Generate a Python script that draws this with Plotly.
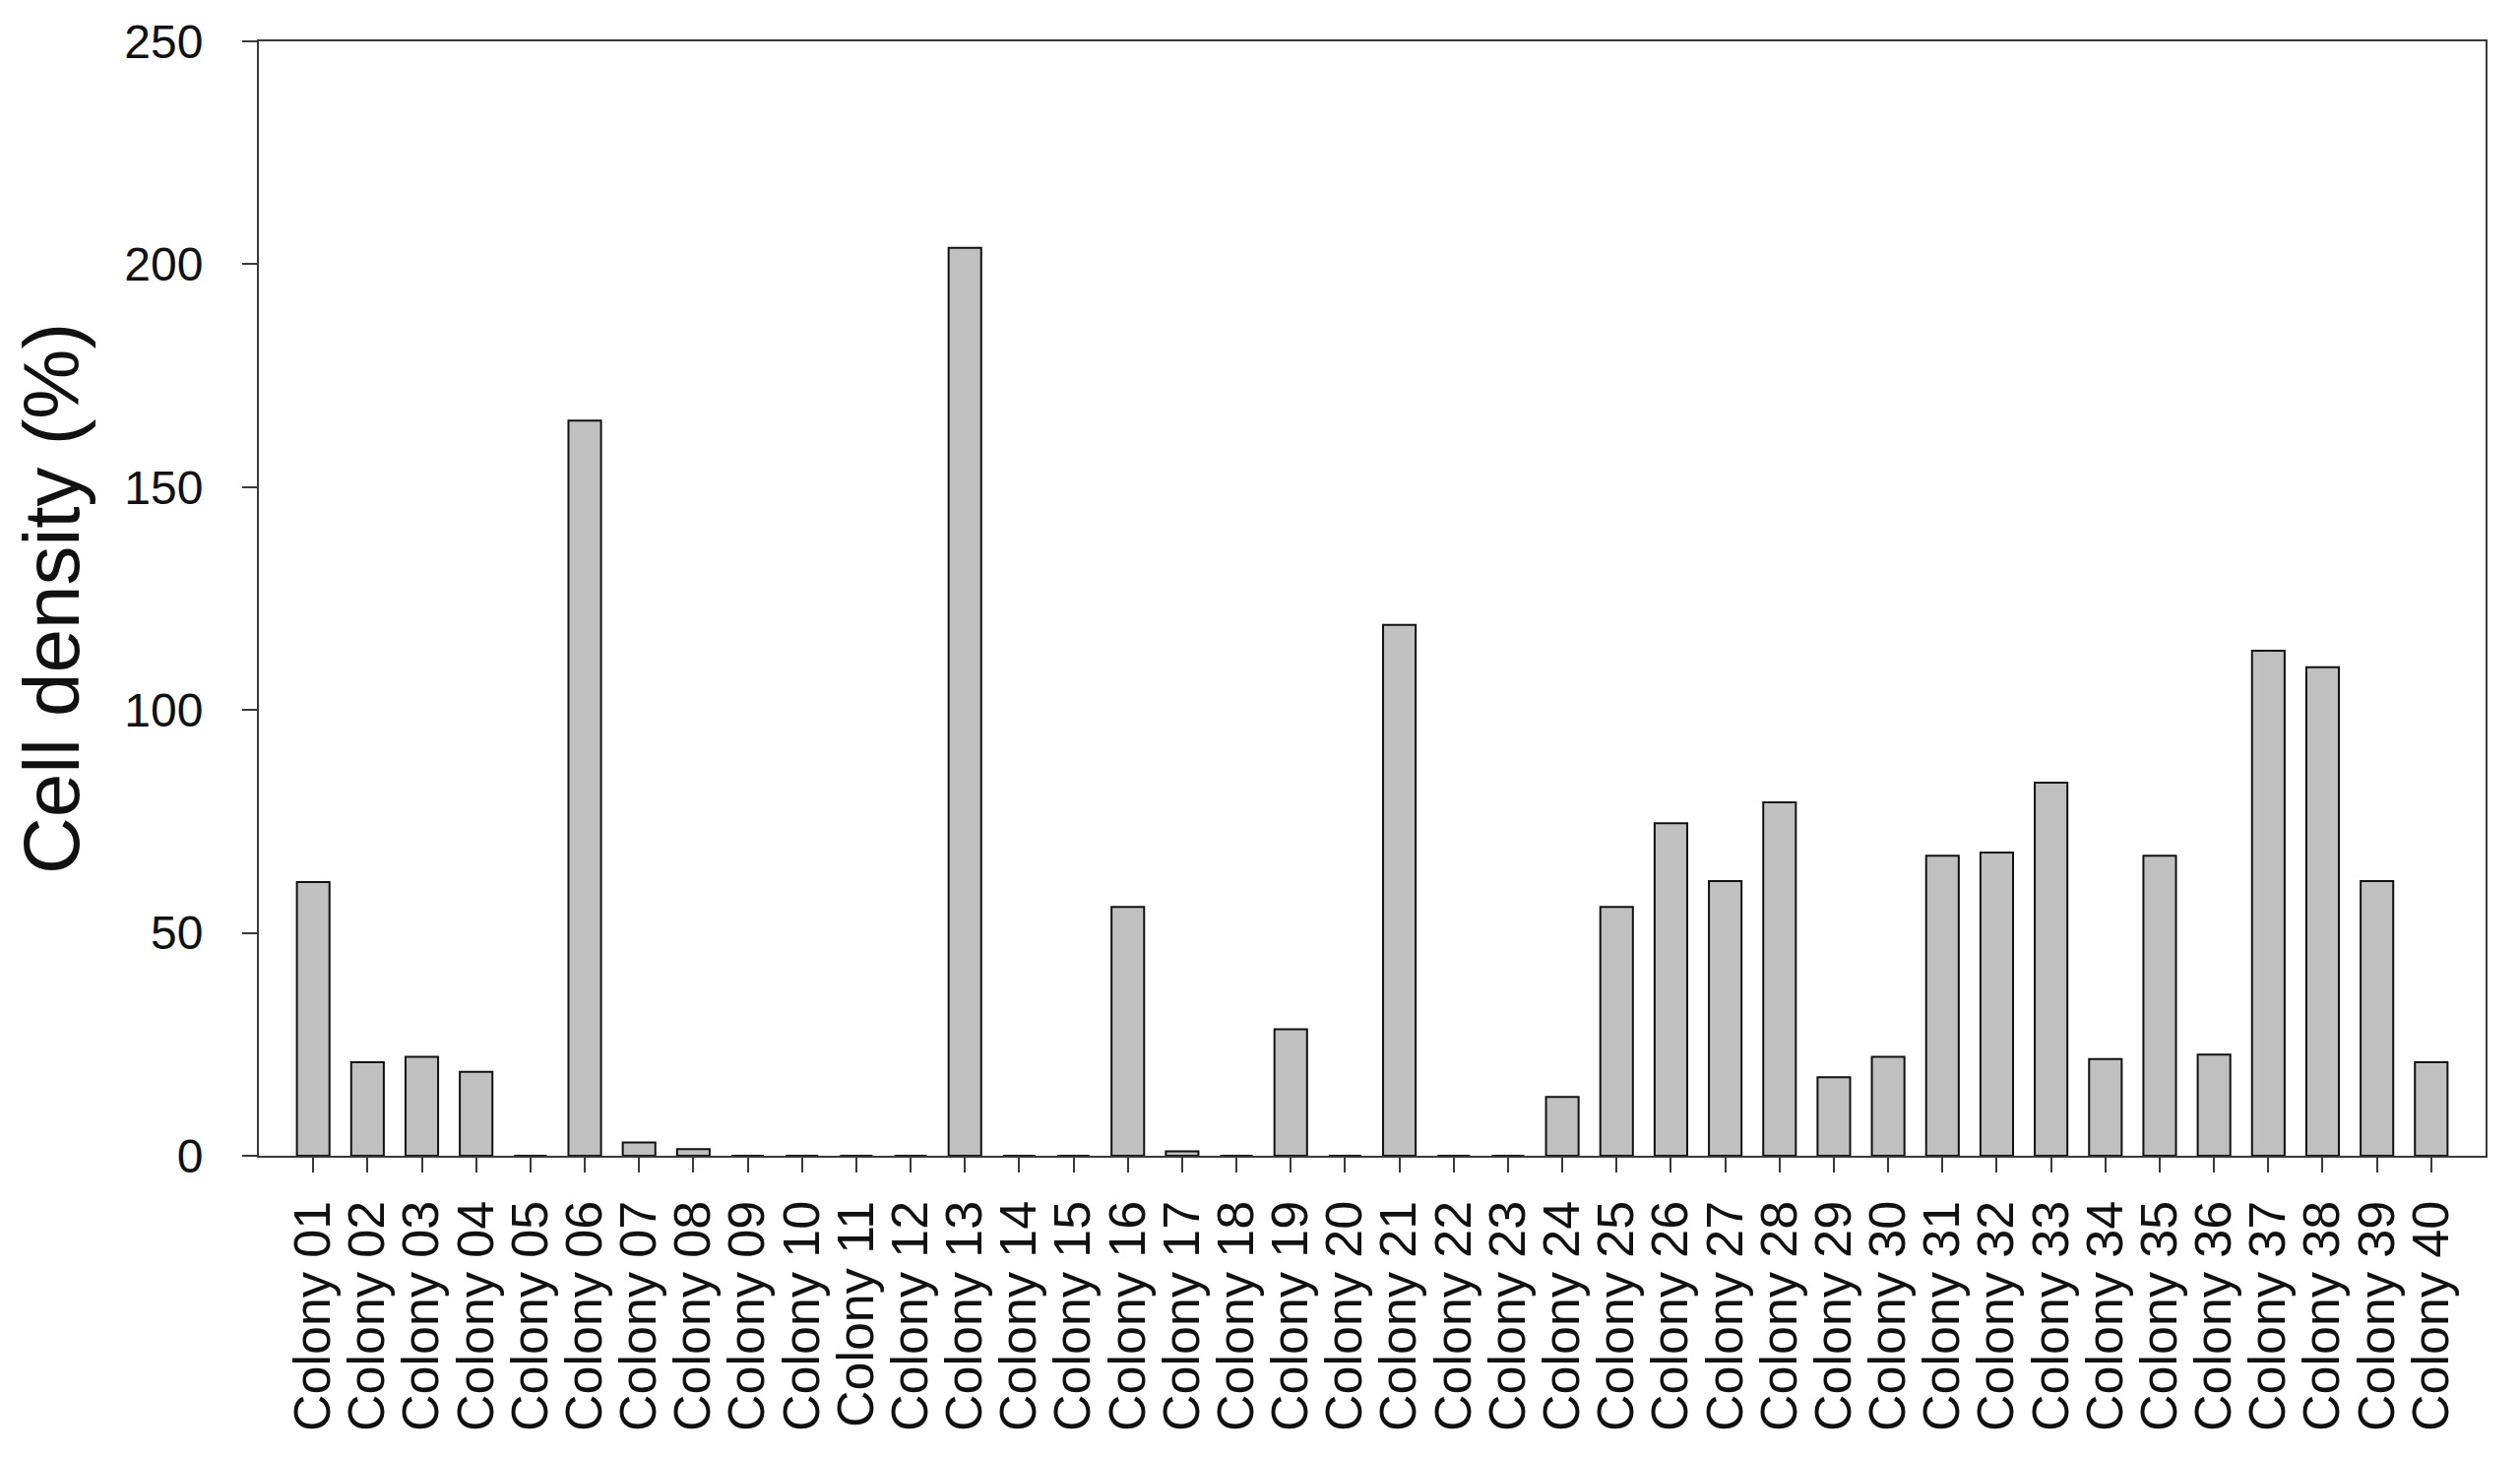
import plotly.graph_objects as go

# colony labels and cell density (%)
colonies = [f"Colony {i:02d}" for i in range(1, 41)]
density = [
    61.4, 21.0, 22.2, 18.8, 0.0, 164.9, 3.0, 1.5, 0.0, 0.0,
    0.0, 0.0, 203.7, 0.0, 0.0, 55.8, 1.0, 0.0, 28.4, 0.0,
    119.1, 0.0, 0.0, 13.2, 55.8, 74.6, 61.6, 79.3, 17.6, 22.2,
    67.3, 68.0, 83.7, 21.7, 67.3, 22.7, 113.3, 109.6, 61.6, 21.0,
]
y_ticks = [0, 50, 100, 150, 200, 250]

font_family = "Liberation Sans, Arial, sans-serif"
axis_col = "#3a3a3a"

fig = go.Figure()
fig.add_trace(go.Bar(
    x=colonies,
    y=density,
    width=0.6,
    marker=dict(color="#c0c0c0", line=dict(color="#111111", width=2)),
))

fig.update_layout(
    width=2560,
    height=1480,
    paper_bgcolor="white",
    plot_bgcolor="white",
    showlegend=False,
    margin=dict(l=255, r=43, t=34, b=314, autoexpand=False),
    font=dict(family=font_family, color="#111111"),
)

fig.update_xaxes(
    range=[-1, 40],
    tickmode="array",
    tickvals=colonies,
    ticktext=colonies,
    tickangle=-90,
    tickfont=dict(size=52),
    ticks="outside",
    ticklen=15,
    tickwidth=2,
    tickcolor=axis_col,
    ticklabelstandoff=8,
    showline=True,
    linecolor=axis_col,
    linewidth=2,
    mirror=True,
    showgrid=False,
    automargin=False,
)

fig.update_yaxes(
    range=[0, 250],
    tickvals=y_ticks,
    tickfont=dict(size=48),
    ticks="outside",
    ticklen=15,
    tickwidth=2,
    tickcolor=axis_col,
    ticklabelstandoff=30,
    showline=True,
    linecolor=axis_col,
    linewidth=2,
    mirror=True,
    showgrid=False,
    zeroline=False,
    automargin=False,
    title=dict(text="Cell density (%)", font=dict(size=80), standoff=40),
)

fig.write_html("out.html")
